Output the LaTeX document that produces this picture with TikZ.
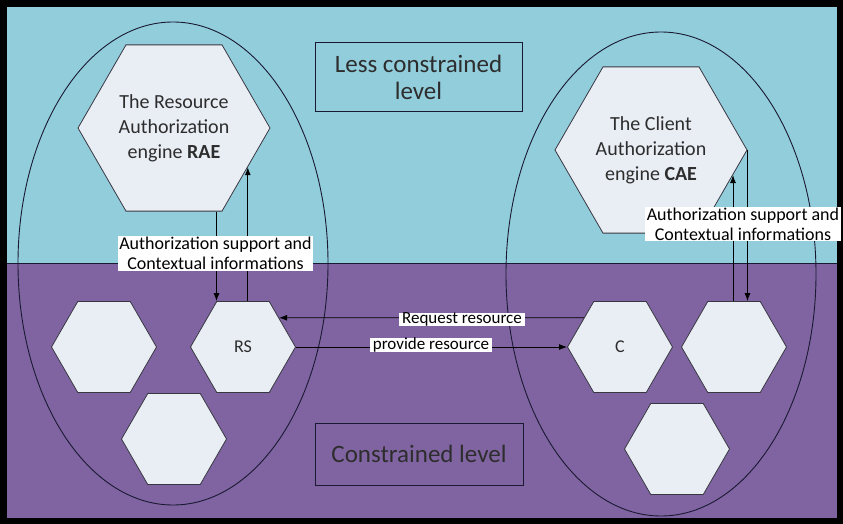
\documentclass[tikz,border=0pt]{standalone}
\usepackage{fontspec}
\setmainfont{Carlito}
\usetikzlibrary{shapes.geometric,arrows.meta,calc}
\definecolor{topbg}{RGB}{146,205,220}
\definecolor{botbg}{RGB}{128,100,162}
\definecolor{hexfill}{RGB}{233,237,244}
\definecolor{hexline}{RGB}{55,55,65}
\definecolor{ellline}{RGB}{25,25,50}
\definecolor{txtgray}{RGB}{45,45,45}
\begin{document}
\begin{tikzpicture}[x=1pt,y=-1pt,
  hexbig/.style={regular polygon, regular polygon sides=6, minimum size=192pt, inner sep=0pt,
    draw=hexline, fill=hexfill, line width=0.8pt, text=txtgray, align=center,
    font=\fontsize{20}{25}\selectfont},
  hexsmall/.style={regular polygon, regular polygon sides=6, minimum size=105pt, inner sep=0pt,
    draw=hexline, fill=hexfill, line width=0.8pt, text=txtgray,
    font=\fontsize{18}{22}\selectfont},
  zone/.style={ellipse, draw=ellline, line width=0.9pt, inner sep=0pt},
  arr/.style={draw=black, line width=0.9pt, -{Latex[length=8pt,width=6pt]}},
  lab/.style={fill=white, text=black, align=center, inner xsep=1.5pt, inner ysep=1pt,
    font=\fontsize{18}{20}\selectfont},
  lab2/.style={fill=white, text=black, inner xsep=3pt, inner ysep=0pt,
    font=\fontsize{17}{19}\selectfont},
  levelbox/.style={draw=ellline, line width=1pt, text=txtgray, align=center,
    font=\fontsize{25}{27}\selectfont}
]
\useasboundingbox (0,0) rectangle (843,524);
% background
\fill[black] (0,0) rectangle (843,524);
\fill[topbg] (7,7) rectangle (837,263);
\fill[botbg] (7,263) rectangle (837,518);
\draw[ellline, line width=1pt] (7,263) -- (837,263);
% zones
\node[zone, minimum width=310pt, minimum height=483pt] (leftzone) at (173,263.5) {};
\node[zone, minimum width=310pt, minimum height=484pt] (rightzone) at (661,274) {};
% hexagons
\node[hexbig] (rae) at (174,128) {The Resource\\Authorization\\engine \textbf{RAE}};
\node[hexbig] (cae) at (651,150) {The Client\\Authorization\\engine \textbf{CAE}};
\node[hexsmall] (lh1) at (104,347) {};
\node[hexsmall] (rs) at (243,347) {RS};
\node[hexsmall] (lh2) at (174,439) {};
\node[hexsmall] (c) at (620,347) {C};
\node[hexsmall] (rh1) at (734,347) {};
\node[hexsmall] (rh2) at (677,449) {};
% connectors
\draw[arr] (rae.south -| rs.120) -- (rs.120);
\draw[arr] (rs.north -| rae.-28.7) -- (rae.-28.7);
\draw[arr] (cae.east) -- (cae.east |- rh1.north);
\draw[arr] (rh1.north -| cae.-17.8) -- (cae.-17.8);
\draw[arr] (c.141) -- (rs.39);
\draw[arr] (rs.east) -- (c.west);
% labels
\node[lab] (authL) at (215.5,253.5) {Authorization support and\\Contextual informations};
\node[lab] (authR) at (743,224) {Authorization support and\\Contextual informations};
\node[lab2] (req) at (462,319.5) {Request resource};
\node[lab2] (prov) at (431,345) {provide resource};
% level boxes
\node[levelbox, minimum width=207pt, minimum height=69pt] (less) at (418.5,77.5) {Less constrained\\level};
\node[levelbox, minimum width=208pt, minimum height=62pt] (cons) at (419,454) {Constrained level};
\end{tikzpicture}
\end{document}
